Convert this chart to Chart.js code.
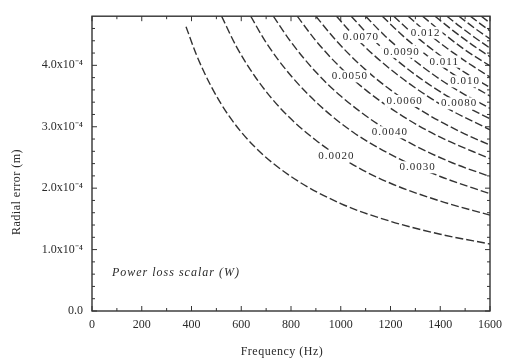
<!DOCTYPE html>
<html><head><meta charset="utf-8">
<script src="https://cdn.jsdelivr.net/npm/chart.js@4"></script>
<style>html,body{margin:0;padding:0;background:#fff}</style>
</head><body>
<canvas id="c" width="509" height="364"></canvas>
<script>
// Radial error values are in units of 1e-4 m; frequency in Hz.
const contour01 = [[378,4.63],[420,4.17],[480,3.65],[550,3.18],[650,2.69],[800,2.19],[1000,1.75],[1200,1.46],[1400,1.25],[1600,1.09]];
const contour02 = [[521,4.80],[580,4.31],[660,3.79],[760,3.29],[900,2.78],[1050,2.38],[1200,2.08],[1400,1.79],[1600,1.56]];
const contour03 = [[638,4.80],[700,4.37],[800,3.83],[920,3.33],[1050,2.91],[1200,2.55],[1400,2.19],[1600,1.91]];
const contour04 = [[729,4.80],[800,4.38],[900,3.89],[1000,3.50],[1150,3.04],[1300,2.69],[1450,2.41],[1600,2.19]];
const contour05 = [[825,4.80],[900,4.40],[1000,3.96],[1100,3.60],[1250,3.17],[1400,2.83],[1600,2.48]];
const contour06 = [[900,4.80],[980,4.41],[1080,4.00],[1200,3.60],[1350,3.20],[1480,2.92],[1600,2.70]];
const contour07 = [[983,4.80],[1060,4.45],[1160,4.07],[1280,3.69],[1420,3.32],[1600,2.95]];
const contour08 = [[1042,4.80],[1120,4.46],[1220,4.10],[1340,3.73],[1470,3.40],[1600,3.13]];
const contour09 = [[1100,4.80],[1180,4.47],[1280,4.13],[1400,3.77],[1500,3.52],[1600,3.30]];
const contour10 = [[1167,4.80],[1250,4.48],[1350,4.15],[1470,3.81],[1600,3.50]];
const contour11 = [[1213,4.80],[1300,4.48],[1400,4.16],[1500,3.88],[1600,3.64]];
const contour12 = [[1271,4.80],[1350,4.52],[1450,4.21],[1530,3.99],[1600,3.81]];
const contour13 = [[1329,4.80],[1400,4.56],[1500,4.25],[1600,3.99]];
const contour14 = [[1379,4.80],[1450,4.57],[1530,4.33],[1600,4.14]];
const contour15 = [[1427,4.80],[1480,4.63],[1540,4.45],[1600,4.28]];
const contour16 = [[1475,4.80],[1540,4.60],[1600,4.43]];
const contour17 = [[1521,4.80],[1560,4.68],[1600,4.56]];
const contour18 = [[1565,4.80],[1600,4.69]];

const labelTexts = ['0.0020','0.0030','0.0040','0.0050','0.0060','0.0070','0.0080','0.0090','0.010','0.011','0.012'];
const labelFreq  = [982, 1309, 1197, 1037, 1257, 1081, 1476, 1245, 1500, 1416, 1341];
const labelErr   = [2.52, 2.34, 2.91, 3.82, 3.42, 4.46, 3.38, 4.22, 3.74, 4.06, 4.53];

const xTickValues = [0,200,400,600,800,1000,1200,1400,1600];
const xTickLabels = ['0','200','400','600','800','1000','1200','1400','1600'];
const xMinorTicks = [100,300,500,700,900,1100,1300,1500];
const yTickValues = [0,1,2,3,4];
const yTickLabels = ['0.0','1.0x10\u207B\u2074','2.0x10\u207B\u2074','3.0x10\u207B\u2074','4.0x10\u207B\u2074'];
const yMinorTicks = [0.2,0.4,0.6,0.8,1.2,1.4,1.6,1.8,2.2,2.4,2.6,2.8,3.2,3.4,3.6,3.8,4.2,4.4,4.6];

const xTitle = 'Frequency (Hz)';
const yTitle = 'Radial error (m)';
const noteText = 'Power loss scalar (W)';
const noteFreq = 80, noteErr = 0.62;

const contours = [contour01,contour02,contour03,contour04,contour05,contour06,contour07,contour08,contour09,
  contour10,contour11,contour12,contour13,contour14,contour15,contour16,contour17,contour18];

const ink = '#333';
const datasets = contours.map(c => ({
  data: c.map(p => ({x:p[0], y:p[1]})),
  showLine: true, pointRadius: 0, borderColor: ink, borderWidth: 1.4,
  borderDash: [8,3], cubicInterpolationMode: 'monotone', fill: false
}));

const decor = {
  id: 'decor',
  afterDatasetsDraw(chart) {
    const {ctx, chartArea: a, scales: {x, y}} = chart;
    ctx.save();
    // contour labels
    ctx.font = '11px "Liberation Serif"';
    ctx.letterSpacing = '1px';
    ctx.textAlign = 'center'; ctx.textBaseline = 'middle';
    labelTexts.forEach((t, i) => {
      const px = x.getPixelForValue(labelFreq[i]), py = y.getPixelForValue(labelErr[i]);
      const w = ctx.measureText(t).width;
      ctx.fillStyle = '#fff';
      ctx.fillRect(px - w/2 - 2, py - 6, w + 4, 12);
      ctx.fillStyle = '#2a2a2a';
      ctx.fillText(t, px, py);
    });
    ctx.letterSpacing = '0px';
    // frame
    ctx.strokeStyle = '#333'; ctx.lineWidth = 1.4;
    ctx.strokeRect(a.left, a.top, a.right - a.left, a.bottom - a.top);
    ctx.lineWidth = 1;
    const tick = (px1, py1, px2, py2) => { ctx.beginPath(); ctx.moveTo(px1, py1); ctx.lineTo(px2, py2); ctx.stroke(); };
    xTickValues.forEach(v => { const px = x.getPixelForValue(v); tick(px, a.bottom, px, a.bottom - 5); tick(px, a.top, px, a.top + 5); });
    xMinorTicks.forEach(v => { const px = x.getPixelForValue(v); tick(px, a.bottom, px, a.bottom - 3); tick(px, a.top, px, a.top + 3); });
    yTickValues.forEach(v => { const py = y.getPixelForValue(v); tick(a.left, py, a.left + 5, py); tick(a.right, py, a.right - 5, py); });
    yMinorTicks.forEach(v => { const py = y.getPixelForValue(v); tick(a.left, py, a.left + 3, py); tick(a.right, py, a.right - 3, py); });
    // note
    ctx.fillStyle = '#2a2a2a';
    ctx.font = 'italic 12px "Liberation Serif"';
    ctx.letterSpacing = '1px';
    ctx.textAlign = 'left';
    ctx.fillText(noteText, x.getPixelForValue(noteFreq), y.getPixelForValue(noteErr));
    // axis titles
    ctx.font = '12px "Liberation Serif"';
    ctx.letterSpacing = '0.5px';
    ctx.textAlign = 'center';
    ctx.fillText(xTitle, 282, 352);
    ctx.translate(17, 192); ctx.rotate(-Math.PI/2);
    ctx.fillText(yTitle, 0, 0);
    ctx.restore();
  }
};

new Chart(document.getElementById('c'), {
  type: 'scatter',
  data: { datasets },
  options: {
    responsive: false, animation: false, devicePixelRatio: 1,
    layout: { padding: { top: 11, right: 16, left: 0, bottom: 0 } },
    plugins: { legend: { display: false }, tooltip: { enabled: false } },
    scales: {
      x: {
        type: 'linear', min: 0, max: 1600,
        afterBuildTicks: s => { s.ticks = xTickValues.map(v => ({value: v})); },
        afterFit: s => { s.height = 53; },
        grid: { display: false, drawTicks: false },
        border: { display: false },
        ticks: { color: '#2a2a2a', padding: 7, maxRotation: 0, autoSkip: false,
          font: { family: 'Liberation Serif', size: 12 },
          callback: (v) => xTickLabels[xTickValues.indexOf(v)] }
      },
      y: {
        type: 'linear', min: 0, max: 4.8,
        afterBuildTicks: s => { s.ticks = yTickValues.map(v => ({value: v})); },
        afterFit: s => { s.width = 92; },
        grid: { display: false, drawTicks: false },
        border: { display: false },
        ticks: { color: '#2a2a2a', padding: 9, autoSkip: false,
          font: { family: 'Liberation Serif', size: 12 },
          callback: (v) => yTickLabels[yTickValues.indexOf(v)] }
      }
    }
  },
  plugins: [decor]
});
</script>
</body></html>
